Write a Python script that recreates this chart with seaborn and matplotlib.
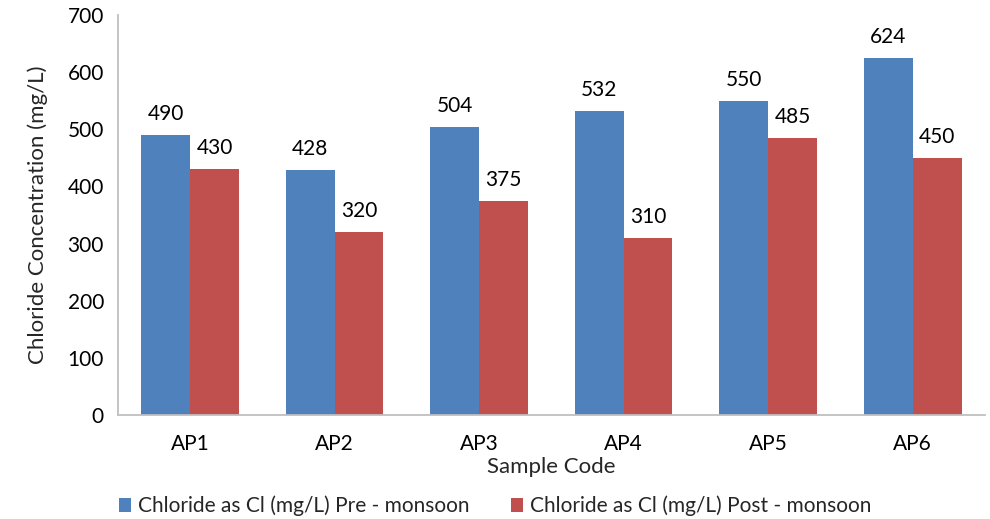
import matplotlib
matplotlib.use("Agg")
import matplotlib.pyplot as plt
import seaborn as sns
import pandas as pd

categories = ["AP1", "AP2", "AP3", "AP4", "AP5", "AP6"]
pre_monsoon = [490, 428, 504, 532, 550, 624]
post_monsoon = [430, 320, 375, 310, 485, 450]
series_names = ["Chloride as Cl (mg/L) Pre - monsoon", "Chloride as Cl (mg/L) Post - monsoon"]
y_ticks = [0, 100, 200, 300, 400, 500, 600, 700]

df = pd.DataFrame({
    "Sample": categories * 2,
    "Value": pre_monsoon + post_monsoon,
    "Series": [series_names[0]] * len(categories) + [series_names[1]] * len(categories),
})

sns.set_theme(style="white")
plt.rcParams["font.family"] = ["Lato", "DejaVu Sans"]

fig = plt.figure(figsize=(9.9, 5.19), dpi=100)
ax = fig.add_axes([0.119, 0.2004, 0.876, 0.7706])

sns.barplot(data=df, x="Sample", y="Value", hue="Series",
            palette=["#4F81BD", "#C0504D"], width=0.675, saturation=1,
            linewidth=0, ax=ax, legend=True)

for cont in ax.containers:
    ax.bar_label(cont, padding=8, fontsize=15, color="#000000")

ax.set_ylim(0, 700)
ax.set_yticks(y_ticks)
ax.set_xlim(-0.5, len(categories) - 0.5)
ax.tick_params(axis="both", labelsize=15, length=0, colors="#000000")
ax.tick_params(axis="x", pad=14)
ax.tick_params(axis="y", pad=10)
ax.set_xlabel("Sample Code", fontsize=16, labelpad=2)
ax.set_ylabel("Chloride Concentration (mg/L)", fontsize=16, labelpad=14)

for s in ["top", "right"]:
    ax.spines[s].set_visible(False)
for s in ["left", "bottom"]:
    ax.spines[s].set_color("#BFBFBF")
    ax.spines[s].set_linewidth(1.3)

handles, labels = ax.get_legend_handles_labels()
ax.get_legend().remove()
fig.legend(handles, labels, loc="center", bbox_to_anchor=(0.5, 0.025), ncol=2, frameon=False,
           fontsize=15, handlelength=0.6, handleheight=0.6, handletextpad=0.3,
           columnspacing=2.0)

fig.savefig("out.png", dpi=100)
